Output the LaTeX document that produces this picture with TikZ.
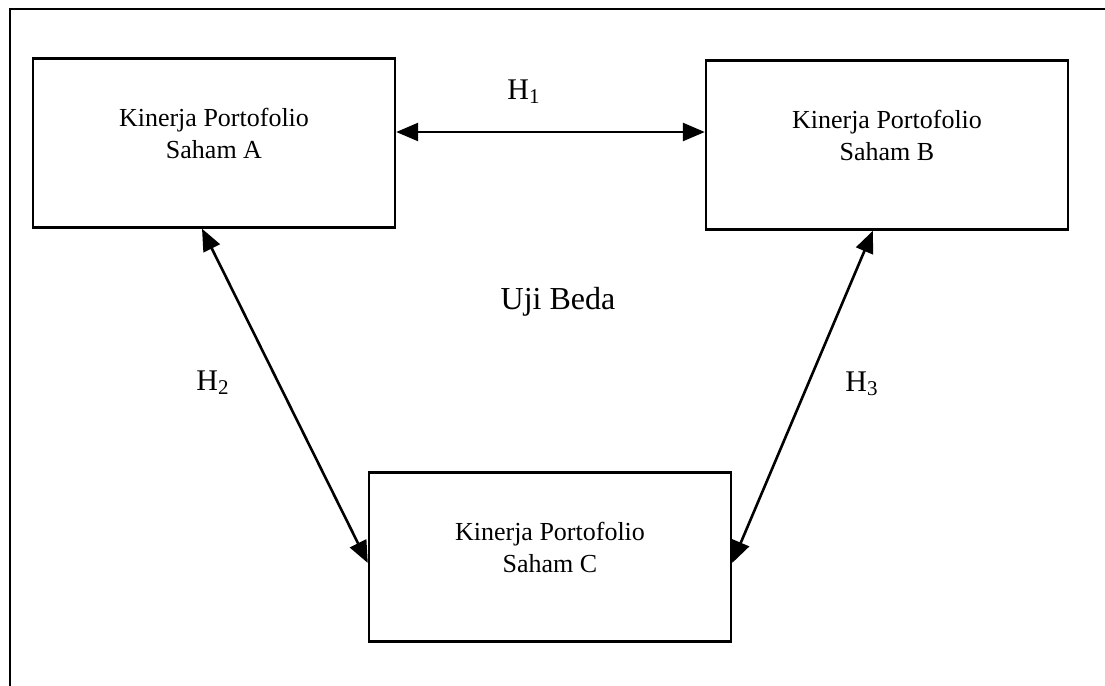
\documentclass[tikz,border=0pt]{standalone}
\usepackage{fontspec}
\setmainfont{Liberation Serif}
\usetikzlibrary{arrows.meta}

\tikzset{
    kotak/.style={draw, line width=1.2pt, minimum width=181pt, minimum height=84.5pt,
        align=center, font=\fontsize{13}{16}\selectfont},
    panah/.style={{Triangle[length=11pt,width=9pt]}-{Triangle[length=11pt,width=9pt]}, line width=1.3pt},
    hipo/.style={font=\fontsize{15}{17}\selectfont}
}

\begin{document}
\begin{tikzpicture}[x=0.5pt,y=-0.5pt]
    \useasboundingbox (0,0) rectangle (1105,686);

    % bingkai luar
    \draw[line width=1.2pt] (10,686) -- (10,9) -- (1105,9);

    % kotak portofolio
    \node[kotak] (sahamA) at (214,143) {Kinerja Portofolio\\Saham A\\[-6pt]};
    \node[kotak] (sahamB) at (887,145) {Kinerja Portofolio\\Saham B\\[-6pt]};
    \node[kotak] (sahamC) at (550,557) {Kinerja Portofolio\\Saham C\\[-6pt]};

    % hubungan antar portofolio
    \draw[panah] ([yshift=5.5pt]sahamA.east) -- ([yshift=6.5pt]sahamB.west);
    \draw[panah] ([xshift=-6pt]sahamA.south) -- ([yshift=-3pt]sahamC.west);
    \draw[panah] ([xshift=-7pt]sahamB.south) -- ([yshift=-3pt]sahamC.east);

    % label
    \node[hipo] (h1) at (524,92) {H\textsubscript{1}};
    \node[hipo] (h2) at (213,383) {H\textsubscript{2}};
    \node[hipo] (h3) at (862,384) {H\textsubscript{3}};
    \node[font=\fontsize{16}{19}\selectfont] (uji) at (558,302) {Uji Beda};
\end{tikzpicture}
\end{document}
